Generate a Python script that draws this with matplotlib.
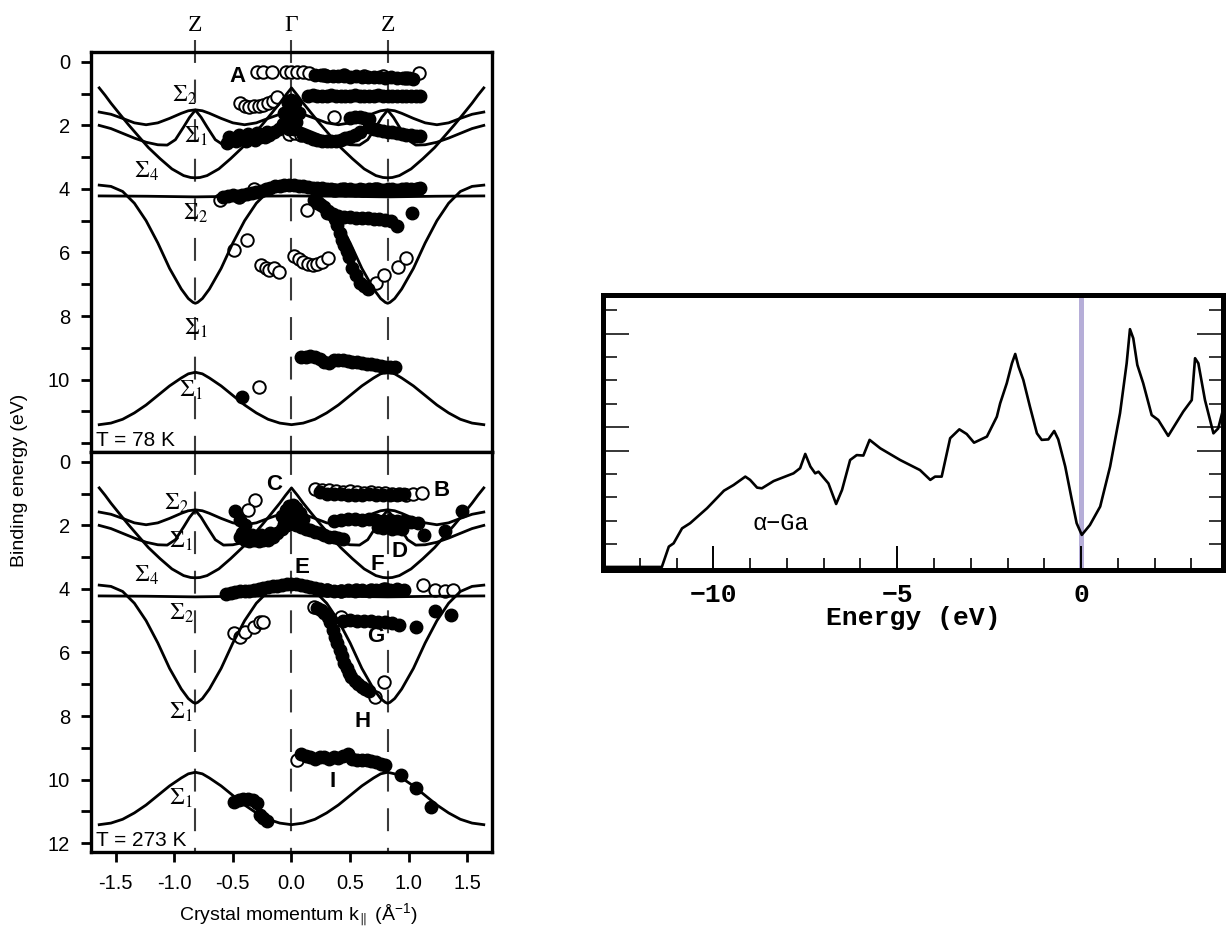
import matplotlib
matplotlib.use("Agg")
import matplotlib.pyplot as plt
import numpy as np
from matplotlib.ticker import FixedLocator, FixedFormatter, MultipleLocator

plt.rcParams["font.family"] = ["Liberation Sans", "DejaVu Sans"]
plt.rcParams["mathtext.fontset"] = "stix"
plt.rcParams["mathtext.default"] = "regular"

# ---- band calculation, half zone (Gamma -> Z), binding energy in eV ----
ZONE = 1.64
Z_POINTS = [-0.82, 0.0, 0.82]
Z_LABELS = ["Z", "Γ", "Z"]

s4_d = [0, 0.05, 0.10, 0.17, 0.25, 0.33, 0.42, 0.52, 0.62, 0.72, 0.78, 0.82]
s4_e = [0.82, 1.05, 1.30, 1.62, 1.98, 2.32, 2.70, 3.05, 3.37, 3.58, 3.64, 3.65]
s2a_d = [0, 0.10, 0.20, 0.30, 0.40, 0.50, 0.60, 0.70, 0.76, 0.82]
s2a_e = [1.58, 1.65, 1.78, 1.92, 1.98, 1.92, 1.78, 1.62, 1.54, 1.51]
s1a_d = [0, 0.10, 0.20, 0.30, 0.40, 0.50, 0.58, 0.65, 0.72, 0.77, 0.82]
s1a_e = [2.00, 2.10, 2.25, 2.40, 2.53, 2.61, 2.62, 2.45, 2.05, 1.75, 1.52]
s1b_d = [0, 0.10, 0.20, 0.30, 0.40, 0.50, 0.60, 0.70, 0.76, 0.80, 0.82]
s1b_e = [3.88, 3.92, 4.08, 4.45, 5.00, 5.70, 6.50, 7.15, 7.45, 7.57, 7.60]
s2b_d = [0, 0.41, 0.82]
s2b_e = [4.22, 4.23, 4.25]
s1c_d = [0, 0.10, 0.20, 0.30, 0.40, 0.50, 0.60, 0.70, 0.76, 0.82]
s1c_e = [11.42, 11.37, 11.25, 11.05, 10.80, 10.50, 10.20, 9.95, 9.82, 9.77]

# ---- ARPES points, T = 78 K ----
t78_filled = {
    "row_a": ([0.20, 0.25, 0.30, 0.35, 0.40, 0.45, 0.50, 0.55, 0.60, 0.65, 0.70, 0.75, 0.80, 0.85, 0.90, 0.95, 1.00, 1.04],
              [0.40, 0.42, 0.43, 0.45, 0.44, 0.46, 0.47, 0.46, 0.48, 0.47, 0.49, 0.48, 0.50, 0.49, 0.50, 0.52, 0.50, 0.55]),
    "row_1": ([0.14, 0.18, 0.22, 0.26, 0.30, 0.34, 0.38, 0.42, 0.46, 0.50, 0.54, 0.58, 0.62, 0.66, 0.70, 0.74, 0.78, 0.82, 0.86, 0.90, 0.94, 0.98, 1.02, 1.06, 1.10],
              [1.08, 1.05, 1.07, 1.06, 1.08, 1.05, 1.07, 1.06, 1.08, 1.07, 1.05, 1.08, 1.06, 1.07, 1.08, 1.05, 1.07, 1.06, 1.08, 1.07, 1.06, 1.08, 1.07, 1.08, 1.07]),
    "gamma": ([-0.06, -0.03, 0.0, 0.03, 0.06, -0.04, 0.04, 0.0, -0.02, 0.02],
              [1.60, 1.30, 1.20, 1.30, 1.60, 1.90, 1.90, 1.60, 2.10, 2.10]),
    "left_2": ([-0.55, -0.51, -0.47, -0.43, -0.39, -0.35, -0.31, -0.27, -0.23, -0.19, -0.15, -0.11, -0.07, -0.53, -0.45, -0.37, -0.29, -0.21],
               [2.55, 2.45, 2.50, 2.42, 2.48, 2.40, 2.45, 2.38, 2.35, 2.30, 2.22, 2.10, 1.95, 2.35, 2.30, 2.28, 2.25, 2.20]),
    "right_2": ([0.10, 0.14, 0.18, 0.22, 0.26, 0.30, 0.34, 0.38, 0.42, 0.46, 0.50, 0.54, 0.58],
                [2.30, 2.38, 2.42, 2.45, 2.48, 2.50, 2.50, 2.48, 2.45, 2.40, 2.35, 2.30, 2.20]),
    "right_175": ([0.50, 0.54, 0.58, 0.62, 0.66], [1.78, 1.75, 1.74, 1.76, 1.80]),
    "right_22": ([0.66, 0.70, 0.74, 0.78, 0.82, 0.86, 0.90, 0.94, 0.98, 1.02, 1.06, 1.10],
                 [2.05, 2.10, 2.15, 2.18, 2.20, 2.22, 2.25, 2.27, 2.30, 2.30, 2.32, 2.33]),
    "row_4": ([-0.58, -0.54, -0.50, -0.46, -0.42, -0.38, -0.34, -0.30, -0.26, -0.22, -0.18, -0.14, -0.10, -0.06, -0.02, 0.02, 0.06, 0.10, 0.14, 0.18, 0.22, 0.26,
               0.30, 0.34, 0.38, 0.42, 0.46, 0.50, 0.54, 0.58, 0.62, 0.66, 0.70, 0.74, 0.78, 0.82, 0.86, 0.90, 0.94, 0.98, 1.02, 1.06, 1.10],
              [4.25, 4.22, 4.20, 4.22, 4.18, 4.15, 4.12, 4.10, 4.05, 4.00, 3.96, 3.92, 3.90, 3.88, 3.88, 3.88, 3.90, 3.92, 3.95, 3.97, 3.97, 3.98,
               4.00, 4.00, 4.02, 4.00, 4.02, 4.00, 4.02, 4.00, 4.02, 4.00, 4.00, 4.00, 4.02, 4.00, 4.00, 4.02, 4.00, 4.02, 4.00, 4.00, 3.98]),
    "branch": ([0.19, 0.22, 0.25, 0.28, 0.31, 0.34, 0.37, 0.39, 0.41, 0.43, 0.45, 0.47, 0.49, 0.52, 0.55, 0.58, 0.62, 0.65],
               [4.35, 4.45, 4.52, 4.58, 4.70, 4.80, 4.95, 5.15, 5.40, 5.60, 5.78, 5.95, 6.15, 6.50, 6.70, 6.95, 7.05, 7.15]),
    "row_5": ([0.30, 0.35, 0.40, 0.45, 0.50, 0.55, 0.60, 0.65, 0.70, 0.75, 0.80, 0.85, 0.90, 1.03],
              [4.75, 4.80, 4.85, 4.88, 4.88, 4.90, 4.92, 4.92, 4.95, 4.95, 4.97, 5.00, 5.18, 4.77]),
    "row_9": ([0.08, 0.12, 0.16, 0.20, 0.24, 0.28, 0.32, 0.36, 0.40, 0.44, 0.48, 0.52, 0.56, 0.60, 0.64, 0.68, 0.72, 0.76, 0.80, 0.84, 0.88],
              [9.28, 9.28, 9.25, 9.30, 9.35, 9.45, 9.48, 9.40, 9.40, 9.38, 9.42, 9.45, 9.45, 9.48, 9.50, 9.50, 9.55, 9.58, 9.60, 9.62, 9.60]),
    "deep": ([-0.42], [10.54]),
}
t78_open = {
    "row_a": ([-0.29, -0.24, -0.17, -0.05, 0.0, 0.05, 0.10, 0.15, 0.28, 0.45, 0.62, 0.78, 0.98, 1.09],
              [0.33, 0.32, 0.31, 0.32, 0.32, 0.33, 0.33, 0.35, 0.40, 0.42, 0.44, 0.44, 0.52, 0.34]),
    "left_13": ([-0.44, -0.40, -0.36, -0.32, -0.28, -0.24, -0.20, -0.16, -0.12],
                [1.30, 1.38, 1.41, 1.40, 1.38, 1.35, 1.30, 1.24, 1.12]),
    "single": ([0.36, -0.02, 0.03, 0.08, 0.13, -0.28], [1.74, 2.28, 2.25, 2.30, 4.66, 10.23]),
    "row_4": ([-0.61, -0.32, -0.45, 0.36, 0.45, 0.60, 0.72, 0.85, 0.98, 1.08],
              [4.35, 4.00, 4.25, 4.02, 4.00, 4.02, 4.00, 4.02, 4.00, 4.00]),
    "branch": ([0.72, 0.79, 0.91, 0.98], [6.97, 6.71, 6.45, 6.18]),
    "left_6": ([-0.49, -0.38], [5.92, 5.61]),
    "mid_6a": ([-0.26, -0.22, -0.19, -0.15, -0.11], [6.40, 6.50, 6.55, 6.50, 6.60]),
    "mid_6b": ([0.02, 0.06, 0.10, 0.14, 0.18, 0.22, 0.26, 0.31], [6.12, 6.20, 6.30, 6.35, 6.40, 6.35, 6.30, 6.18]),
}

# ---- ARPES points, T = 273 K ----
t273_filled = {
    "row_b": ([0.24, 0.30, 0.36, 0.42, 0.48, 0.54, 0.60, 0.66, 0.72, 0.78, 0.84, 0.90, 0.96],
              [0.95, 1.00, 1.02, 1.00, 1.05, 1.03, 1.05, 1.02, 1.05, 1.03, 1.05, 1.05, 1.00]),
    "left_15": ([-0.48, -0.44, -0.40], [1.56, 1.83, 2.00]),
    "gamma": ([-0.08, -0.05, -0.02, 0.01, 0.04, 0.07, 0.10, -0.06, 0.0, 0.06],
              [1.70, 1.50, 1.40, 1.35, 1.45, 1.60, 1.80, 1.95, 1.70, 1.95]),
    "left_2": ([-0.44, -0.40, -0.36, -0.32, -0.28, -0.24, -0.20, -0.16, -0.12, -0.08, -0.04, -0.42, -0.34, -0.26, -0.18],
               [2.35, 2.45, 2.50, 2.45, 2.50, 2.45, 2.45, 2.35, 2.25, 2.10, 2.00, 2.25, 2.30, 2.30, 2.25]),
    "right_2": ([0.04, 0.08, 0.12, 0.16, 0.20, 0.24, 0.28, 0.32, 0.36, 0.40, 0.44],
                [2.00, 2.05, 2.10, 2.15, 2.20, 2.25, 2.30, 2.35, 2.38, 2.40, 2.42]),
    "row_18": ([0.36, 0.42, 0.48, 0.54, 0.60, 0.66, 0.72, 0.78, 0.84, 0.90, 0.96, 1.02, 1.08],
               [1.85, 1.82, 1.80, 1.80, 1.82, 1.80, 1.82, 1.85, 1.83, 1.85, 1.87, 1.90, 1.92]),
    "row_205": ([0.74, 0.78, 0.82, 0.86, 0.90, 0.94, 1.13, 1.31, 1.45],
                [2.05, 2.08, 2.06, 2.10, 2.08, 2.10, 2.30, 2.19, 1.56]),
    "row_4": ([-0.56, -0.52, -0.48, -0.44, -0.40, -0.36, -0.32, -0.28, -0.24, -0.20, -0.16, -0.12, -0.08, -0.04, 0.0, 0.04, 0.08,
               0.12, 0.16, 0.20, 0.24, 0.30, 0.36, 0.42, 0.48, 0.54, 0.60, 0.66, 0.72, 0.78, 0.84, 0.90, 0.96],
              [4.15, 4.12, 4.10, 4.08, 4.05, 4.05, 4.02, 4.00, 3.98, 3.95, 3.92, 3.90, 3.88, 3.86, 3.85, 3.86, 3.88,
               3.90, 3.95, 3.98, 4.00, 4.02, 4.05, 4.05, 4.02, 4.05, 4.02, 4.05, 4.03, 4.00, 4.02, 4.00, 4.02]),
    "branch": ([0.22, 0.25, 0.28, 0.31, 0.33, 0.35, 0.37, 0.39, 0.41, 0.43, 0.45, 0.47, 0.49, 0.51, 0.54, 0.57, 0.60, 0.63, 0.66],
               [4.60, 4.65, 4.75, 4.87, 5.05, 5.30, 5.50, 5.70, 5.92, 6.10, 6.34, 6.50, 6.65, 6.76, 6.90, 7.00, 7.08, 7.15, 7.20]),
    "row_5": ([0.44, 0.50, 0.56, 0.62, 0.68, 0.74, 0.80, 0.86, 0.92, 1.06, 1.22, 1.36],
              [5.00, 4.98, 5.00, 5.02, 5.00, 5.05, 5.05, 5.08, 5.15, 5.19, 4.71, 4.82]),
    "row_9": ([0.08, 0.12, 0.16, 0.20, 0.24, 0.28, 0.32, 0.36, 0.40, 0.44, 0.48, 0.52, 0.56, 0.60, 0.64, 0.68, 0.72, 0.76, 0.80],
              [9.20, 9.25, 9.30, 9.35, 9.30, 9.30, 9.35, 9.30, 9.32, 9.25, 9.20, 9.35, 9.38, 9.40, 9.40, 9.42, 9.45, 9.50, 9.55]),
    "deep_left": ([-0.49, -0.45, -0.41, -0.37, -0.33, -0.29, -0.27, -0.24, -0.21],
                  [10.70, 10.65, 10.62, 10.60, 10.65, 10.75, 11.10, 11.20, 11.30]),
    "deep_right": ([0.93, 1.06, 1.19], [9.86, 10.28, 10.85]),
}
t273_open = {
    "row_b": ([0.20, 0.26, 0.32, 0.38, 0.44, 0.50, 0.56, 0.62, 0.68, 0.74, 0.80, 0.86, 0.92, 0.98, 1.04, 1.11],
              [0.85, 0.88, 0.90, 0.92, 0.95, 0.93, 0.95, 0.97, 0.95, 0.97, 0.98, 1.00, 1.02, 1.04, 1.02, 0.98]),
    "left_13": ([-0.31, -0.37], [1.20, 1.51]),
    "row_4": ([0.30, 0.42, 0.55, 0.68, 0.80, 1.12, 1.22, 1.31, 1.38], [4.02, 4.05, 4.02, 4.03, 4.00, 3.87, 4.03, 4.05, 4.03]),
    "single": ([0.19, 0.71, 0.79, 0.42, 0.05], [4.56, 7.39, 6.92, 4.87, 9.39]),
    "left_5": ([-0.49, -0.44, -0.40, -0.32, -0.27, -0.24], [5.40, 5.50, 5.35, 5.19, 5.05, 5.03]),
}

# band labels (text, x, y) plus per-panel letters
sigma_78 = [(r"$\mathrm{\Sigma_2}$", -0.91, 1.04), (r"$\mathrm{\Sigma_1}$", -0.82, 2.35), (r"$\mathrm{\Sigma_4}$", -1.24, 3.45),
            (r"$\mathrm{\Sigma_2}$", -0.82, 4.77), (r"$\mathrm{\Sigma_1}$", -0.82, 8.38), (r"$\mathrm{\Sigma_1}$", -0.86, 10.33)]
sigma_273 = [(r"$\mathrm{\Sigma_2}$", -0.98, 1.30), (r"$\mathrm{\Sigma_1}$", -0.94, 2.51), (r"$\mathrm{\Sigma_4}$", -1.24, 3.56),
             (r"$\mathrm{\Sigma_2}$", -0.94, 4.76), (r"$\mathrm{\Sigma_1}$", -0.94, 7.90), (r"$\mathrm{\Sigma_1}$", -0.94, 10.58)]
letters_78 = [("A", -0.46, 0.47)]
letters_273 = [("C", -0.15, 0.72), ("B", 1.28, 0.90), ("D", 0.92, 2.82), ("F", 0.73, 3.24), ("E", 0.09, 3.34),
               ("G", 0.72, 5.50), ("H", 0.61, 8.18), ("I", 0.35, 10.07)]

# ---- density of states, alpha-Ga ----
dos_energy = [-13.0, -11.4, -11.21, -11.08, -10.85, -10.63, -10.17, -9.71, -9.45, -9.13, -9.0, -8.81, -8.68, -8.36, -7.82, -7.64,
              -7.5, -7.36, -7.23, -7.14, -6.87, -6.66, -6.5, -6.28, -6.1, -5.92, -5.75, -5.46, -4.92, -4.38, -4.10, -3.97, -3.79,
              -3.56, -3.31, -3.11, -2.91, -2.56, -2.29, -2.2, -2.02, -1.88, -1.79, -1.70, -1.57, -1.39, -1.20, -1.07, -0.89, -0.73,
              -0.62, -0.43, -0.25, -0.12, 0.02, 0.24, 0.52, 0.79, 1.06, 1.24, 1.33, 1.42, 1.53, 1.69, 1.92, 2.10, 2.37, 2.78,
              3.01, 3.10, 3.19, 3.37, 3.60, 3.73, 3.87]
dos_value = [0.03, 0.03, 0.90, 1.04, 1.68, 1.90, 2.54, 3.29, 3.53, 3.89, 3.75, 3.42, 3.39, 3.70, 4.03, 4.25,
             4.86, 4.32, 4.03, 4.10, 3.60, 2.72, 3.32, 4.60, 4.81, 4.79, 5.46, 5.10, 4.60, 4.17, 3.75, 3.89, 3.89,
             5.53, 5.91, 5.71, 5.34, 5.60, 6.45, 7.02, 7.88, 8.73, 9.13, 8.59, 8.02, 6.88, 5.74, 5.46, 5.48, 5.84,
             5.48, 4.32, 2.89, 1.90, 1.40, 1.82, 2.61, 4.32, 6.60, 8.73, 10.19, 9.80, 8.66, 7.88, 6.52, 6.31, 5.63, 6.67,
             7.16, 8.95, 8.73, 7.16, 5.74, 5.95, 6.81]

W, H = 1228, 930
MONO = ["Liberation Mono", "DejaVu Sans Mono"]


def unfold(d, e):
    # half zone (Gamma..Z) -> full zone, using the mirror symmetry seen in the plot
    d = np.asarray(d, dtype=float)
    e = np.asarray(e, dtype=float)
    x = np.concatenate([d, ZONE - d[::-1][1:]])
    y = np.concatenate([e, e[::-1][1:]])
    return np.concatenate([-x[::-1], x[1:]]), np.concatenate([y[::-1], y[1:]])


def px_axes(x0, y0, x1, y1):
    return fig.add_axes([x0 / W, 1 - y1 / H, (x1 - x0) / W, (y1 - y0) / H])


def draw_band_panel(ax, filled, opened, sigmas, letters, temp_label, top):
    ax.set_xlim(-1.71, 1.71)
    ax.set_ylim(12.28, -0.31)
    for xz in Z_POINTS:
        ax.plot([xz, xz], [-0.69 if top else -0.31, 12.28], color="#3a3a3a", lw=1.5,
                dashes=(11, 8), zorder=1, clip_on=False)
    for xs, ys in opened.values():
        ax.plot(xs, ys, "o", ms=9, mfc="white", mec="black", mew=1.4, zorder=2)
    for xs, ys in filled.values():
        ax.plot(xs, ys, "o", ms=9, mfc="black", mec="black", mew=1.0, zorder=2)
    for d, e in [(s4_d, s4_e), (s2a_d, s2a_e), (s1a_d, s1a_e), (s1b_d, s1b_e), (s2b_d, s2b_e), (s1c_d, s1c_e)]:
        bx, by = unfold(d, e)
        ax.plot(bx, by, color="black", lw=2.0, solid_joinstyle="round", zorder=3)
    for txt, x, y in sigmas:
        ax.text(x, y, txt, fontsize=17, ha="center", va="center", zorder=4)
    for txt, x, y in letters:
        ax.text(x, y, txt, fontsize=16, fontweight="bold", ha="center", va="center", zorder=4)
    ax.text(-1.67, 11.93, temp_label, fontsize=15, ha="left", va="center", zorder=4)

    ax.yaxis.set_major_locator(FixedLocator([0, 2, 4, 6, 8, 10, 12]))
    ax.yaxis.set_minor_locator(FixedLocator([1, 3, 5, 7, 9, 11]))
    labels = ["0", "2", "4", "6", "8", "10", "" if top else "12"]
    ax.yaxis.set_major_formatter(FixedFormatter(labels))
    ax.tick_params(axis="y", which="both", direction="out", length=7, width=2.0, labelsize=14.5, pad=8)
    ax.xaxis.set_major_locator(FixedLocator([-1.5, -1.0, -0.5, 0.0, 0.5, 1.0, 1.5]))
    ax.xaxis.set_major_formatter(FixedFormatter(["-1.5", "-1.0", "-0.5", "0.0", "0.5", "1.0", "1.5"]))
    if top:
        ax.tick_params(axis="x", which="both", bottom=False, labelbottom=False)
        for xz, lab in zip(Z_POINTS, Z_LABELS):
            ax.text(xz, -1.15, lab, fontsize=17, family="Liberation Serif", ha="center", va="center", clip_on=False)
    else:
        ax.tick_params(axis="x", direction="out", length=7, width=2.0, labelsize=14.5, pad=9)
    for sp in ax.spines.values():
        sp.set_linewidth(2.4)


fig = plt.figure(figsize=(W / 100, H / 100), dpi=100)

ax_top = px_axes(91, 52, 492, 452)
ax_bot = px_axes(91, 452, 492, 852)
draw_band_panel(ax_top, t78_filled, t78_open, sigma_78, letters_78, "T = 78 K", True)
draw_band_panel(ax_bot, t273_filled, t273_open, sigma_273, letters_273, "T = 273 K", False)

fig.text(20 / W, 1 - 480 / H, "Binding energy (eV)", rotation=90, fontsize=14, ha="center", va="center")
fig.text(298 / W, 1 - 915 / H, "Crystal momentum k$_{\\parallel}$ (Å$^{-1}$)", fontsize=14, ha="center", va="center")

# ---- right panel: DOS ----
ax2 = px_axes(603, 295, 1223, 570)
ax2.axvline(0, color="#b6aed8", lw=3.6, zorder=1)
ax2.plot(dos_energy, dos_value, color="black", lw=1.9, zorder=2)
ax2.set_xlim(-13, 3.86)
ax2.set_ylim(-0.1, 11.65)
ax2.xaxis.set_major_locator(FixedLocator([-10, -5, 0]))
ax2.xaxis.set_minor_locator(MultipleLocator(1))
ax2.yaxis.set_major_locator(FixedLocator([5, 6, 10]))
ax2.yaxis.set_minor_locator(FixedLocator([1, 2, 3, 4, 7, 8, 9, 11]))
ax2.tick_params(axis="x", which="major", direction="in", length=17, width=1.4, labelsize=19, pad=9,
                labelfontfamily="Liberation Mono")
ax2.tick_params(axis="x", which="minor", direction="in", length=8.5, width=1.2)
ax2.tick_params(axis="y", which="major", direction="in", length=19, width=1.1, left=True, right=True, labelleft=False)
ax2.tick_params(axis="y", which="minor", direction="in", length=10, width=1.1, left=True, right=True)
for lab in ax2.get_xticklabels():
    lab.set_fontweight("bold")
for sp in ax2.spines.values():
    sp.set_linewidth(3.6)
ax2.set_xlabel("Energy (eV)", fontsize=19, family=MONO, fontweight="bold", labelpad=0)
ax2.text(-8.94, 1.9, "α−Ga", fontsize=17, family=MONO, ha="left", va="center")

fig.savefig("out.png", dpi=100)
